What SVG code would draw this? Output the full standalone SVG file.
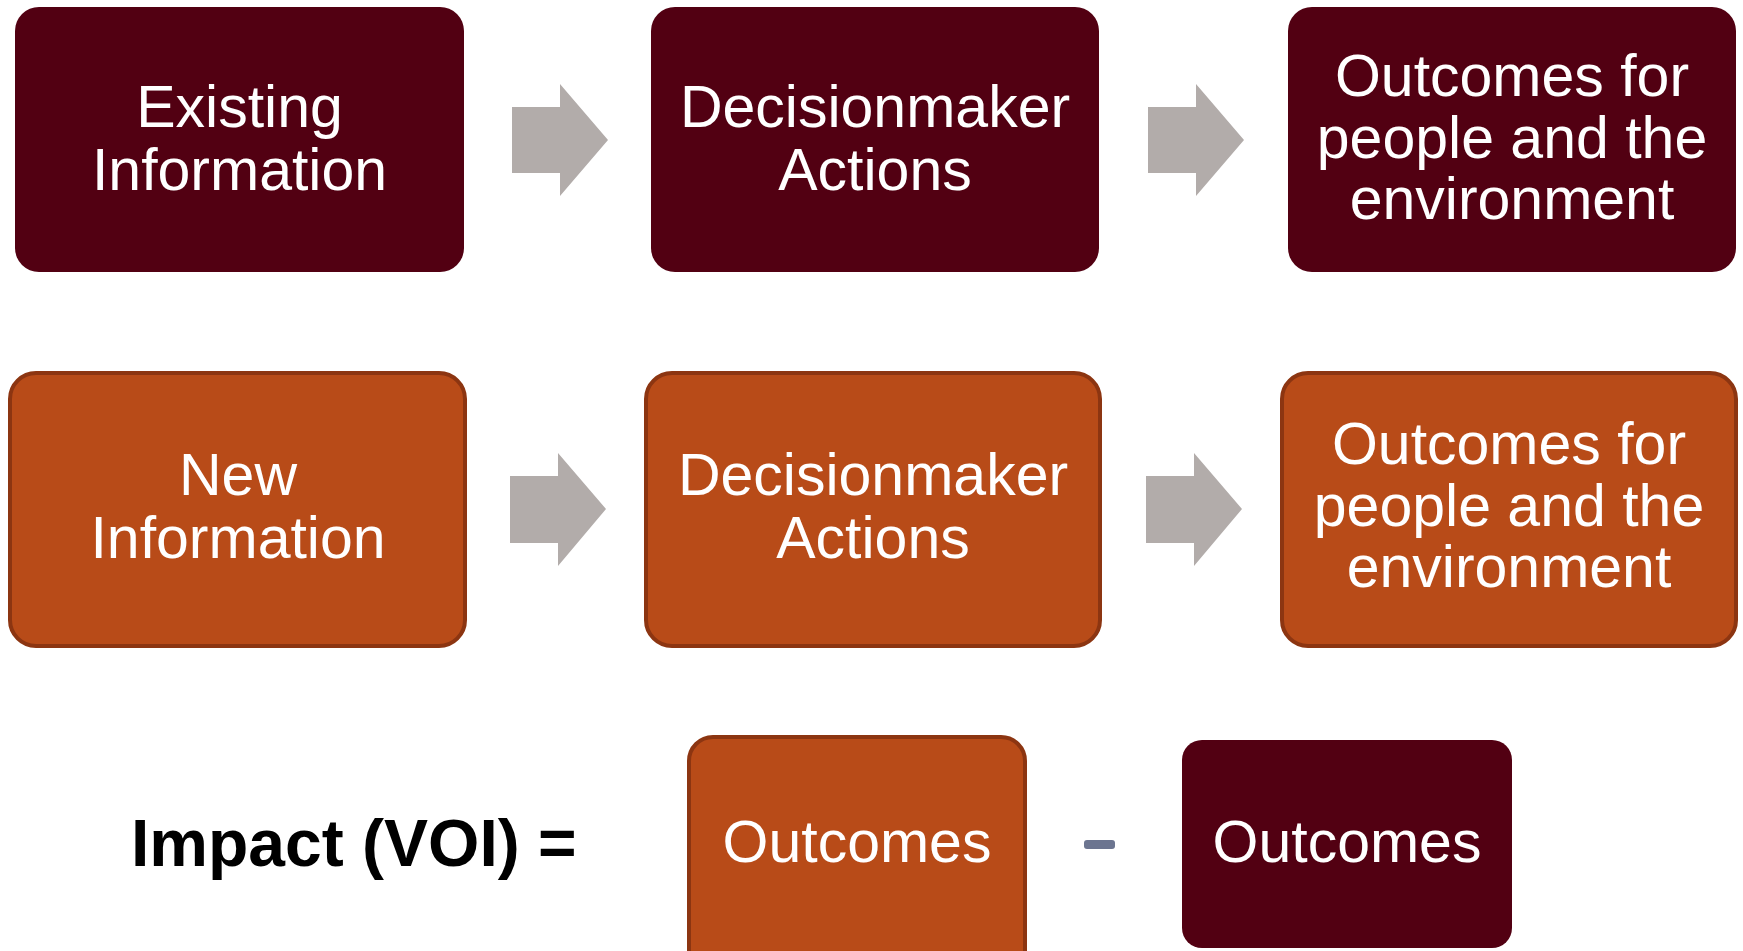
<svg xmlns="http://www.w3.org/2000/svg" width="1743" height="951" viewBox="0 0 1743 951">
<style>
.dark{fill:#520012;}
.orange{fill:#B84B18;stroke:#8C3511;stroke-width:4;}
.arrow{fill:#B2ACAA;}
.lbl{font-family:"Liberation Sans",Arial,sans-serif;font-size:59px;fill:#FFFFFF;text-anchor:middle;}
.eq{font-family:"Liberation Sans",Arial,sans-serif;font-size:66px;font-weight:bold;fill:#000000;}
</style>
<rect width="1743" height="951" fill="#FFFFFF"/>
<g id="existing-info">
<rect class="dark" x="15" y="7" width="449" height="265" rx="24"/>
<text class="lbl" x="239.5" y="127">Existing</text>
<text class="lbl" x="239.5" y="190">Information</text>
</g>
<g id="actions-1">
<rect class="dark" x="651" y="7" width="448" height="265" rx="24"/>
<text class="lbl" x="875" y="127">Decisionmaker</text>
<text class="lbl" x="875" y="190">Actions</text>
</g>
<g id="outcomes-1">
<rect class="dark" x="1288" y="7" width="448" height="265" rx="24"/>
<text class="lbl" x="1512" y="96">Outcomes for</text>
<text class="lbl" x="1512" y="158">people and the</text>
<text class="lbl" x="1512" y="219">environment</text>
</g>
<g id="new-info">
<rect class="orange" x="10" y="373" width="455" height="273" rx="26"/>
<text class="lbl" x="238" y="495">New</text>
<text class="lbl" x="238" y="558">Information</text>
</g>
<g id="actions-2">
<rect class="orange" x="646" y="373" width="454" height="273" rx="26"/>
<text class="lbl" x="873" y="495">Decisionmaker</text>
<text class="lbl" x="873" y="558">Actions</text>
</g>
<g id="outcomes-2">
<rect class="orange" x="1282" y="373" width="454" height="273" rx="26"/>
<text class="lbl" x="1509" y="464">Outcomes for</text>
<text class="lbl" x="1509" y="526">people and the</text>
<text class="lbl" x="1509" y="587">environment</text>
</g>
<g id="connectors">
<polygon class="arrow" points="512,107 560,107 560,84 608,140 560,196 560,173 512,173"/>
<polygon class="arrow" points="1148,107 1196,107 1196,84 1244,140 1196,196 1196,173 1148,173"/>
<polygon class="arrow" points="510,476 558,476 558,453 606,509 558,566 558,543 510,543"/>
<polygon class="arrow" points="1146,476 1194,476 1194,453 1242,509 1194,566 1194,543 1146,543"/>
</g>
<g id="equation">
<text class="eq" x="131" y="866">Impact (VOI) =</text>
</g>
<g id="outcomes-new">
<rect class="orange" x="689" y="737" width="336" height="240" rx="24"/>
<text class="lbl" x="857" y="862">Outcomes</text>
</g>
<g id="minus">
<rect x="1084" y="840" width="31" height="9" rx="3" fill="#6C7590"/>
</g>
<g id="outcomes-existing">
<rect class="dark" x="1182" y="740" width="330" height="208" rx="20"/>
<text class="lbl" x="1347" y="862">Outcomes</text>
</g>
</svg>
